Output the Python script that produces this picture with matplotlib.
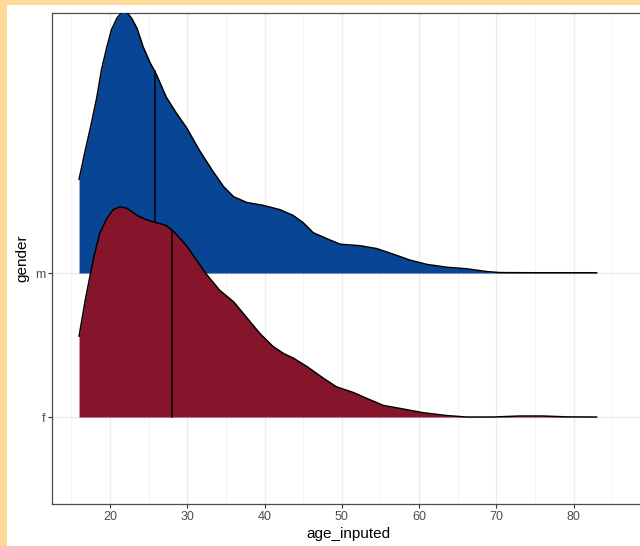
import matplotlib
matplotlib.use("Agg")
import matplotlib.pyplot as plt
import numpy as np

plt.rcParams['font.family'] = ['Liberation Sans', 'DejaVu Sans']

# ridge rows (bottom to top)
genders = ["f", "m"]

# density outline (height in row units above the baseline)
male_age = [16.0, 16.8, 17.6, 18.3, 18.9, 19.6, 20.2, 20.9, 21.5, 22.2, 22.8, 23.5,
            24.3, 25.2, 26.0, 27.3, 28.6, 29.9, 31.6, 33.4, 34.7, 36.0, 37.7, 39.8,
            42.0, 43.7, 45.0, 46.3, 48.0, 49.8, 52.3, 54.5, 56.7, 58.8, 61.0, 63.6,
            66.1, 68.8, 70.5, 75.0, 83.0]
male_h = [0.65, 0.85, 1.04, 1.22, 1.41, 1.57, 1.69, 1.77, 1.81, 1.81, 1.77, 1.70,
          1.57, 1.46, 1.38, 1.22, 1.11, 1.01, 0.85, 0.70, 0.60, 0.53, 0.49, 0.47,
          0.44, 0.40, 0.35, 0.28, 0.24, 0.20, 0.19, 0.17, 0.13, 0.09, 0.06, 0.04,
          0.03, 0.01, 0.003, 0.002, 0.002]

female_age = [16.0, 16.8, 17.9, 18.7, 19.6, 20.4, 21.3, 22.2, 23.5, 24.7, 26.0, 27.3,
              28.4, 29.9, 31.2, 32.5, 34.2, 36.0, 37.7, 39.4, 41.1, 42.5, 43.7, 45.5,
              47.6, 49.3, 51.5, 53.2, 55.4, 57.5, 60.5, 63.6, 66.1, 69.6, 73.0, 76.0,
              79.1, 83.0]
female_h = [0.56, 0.81, 1.11, 1.28, 1.38, 1.44, 1.46, 1.45, 1.40, 1.37, 1.35, 1.33,
            1.28, 1.19, 1.09, 0.99, 0.88, 0.80, 0.69, 0.58, 0.49, 0.44, 0.41, 0.35,
            0.27, 0.21, 0.17, 0.13, 0.08, 0.06, 0.03, 0.01, 0.0, 0.0, 0.007, 0.007,
            0.001, 0.0]

male_median = 25.8
female_median = 28.0

W, H = 640, 546
fig = plt.figure(figsize=(W / 100, H / 100), dpi=100, facecolor="#FFD998")
fig.patches.append(plt.Rectangle((7 / W, 0), 1, 1 - 5 / H, transform=fig.transFigure,
                                 facecolor="white", edgecolor="none", zorder=-10))

ax = fig.add_axes([52 / W, (H - 504) / H, (644 - 52) / W, (504 - 13) / H])
ax.set_facecolor("white")

ridges = [
    (2, male_age, male_h, male_median, "#084594"),
    (1, female_age, female_h, female_median, "#86142A"),
]
z = 3
for base, xs, hs, med, col in ridges:
    xs = np.array(xs)
    top = base + np.array(hs)
    ax.fill_between(xs, base, top, color=col, linewidth=0, zorder=z)
    ax.plot(xs, top, color="black", lw=1.1, zorder=z + 0.1,
            solid_joinstyle="round", solid_capstyle="round")
    ax.plot([med, med], [base, base + np.interp(med, xs, hs)], color="black",
            lw=1.1, zorder=z + 0.1)
    z += 1

ax.set_xlim(12.5, 89.1)
ax.set_ylim(0.396, 3.806)

ax.set_xticks([20, 30, 40, 50, 60, 70, 80])
ax.set_xticks([15, 25, 35, 45, 55, 65, 75, 85], minor=True)
ax.set_yticks([1, 2])
ax.set_yticklabels(genders)

ax.grid(True, which="major", color="#EBEBEB", lw=1.0, zorder=0)
ax.grid(True, which="minor", axis="x", color="#F2F2F2", lw=0.6, zorder=0)
ax.set_axisbelow(True)

for s in ["left", "bottom", "top"]:
    ax.spines[s].set_color("#4D4D4D")
    ax.spines[s].set_linewidth(0.9)
ax.spines["right"].set_visible(False)
ax.tick_params(which="major", length=3, width=0.8, color="#333333",
               labelsize=9, labelcolor="#4D4D4D", pad=2)
ax.tick_params(which="minor", length=0)

ax.set_xlabel("age_inputed", fontsize=11, labelpad=3)
ax.set_ylabel("gender", fontsize=11, labelpad=4)

fig.savefig("out.png", dpi=100, facecolor=fig.get_facecolor())
